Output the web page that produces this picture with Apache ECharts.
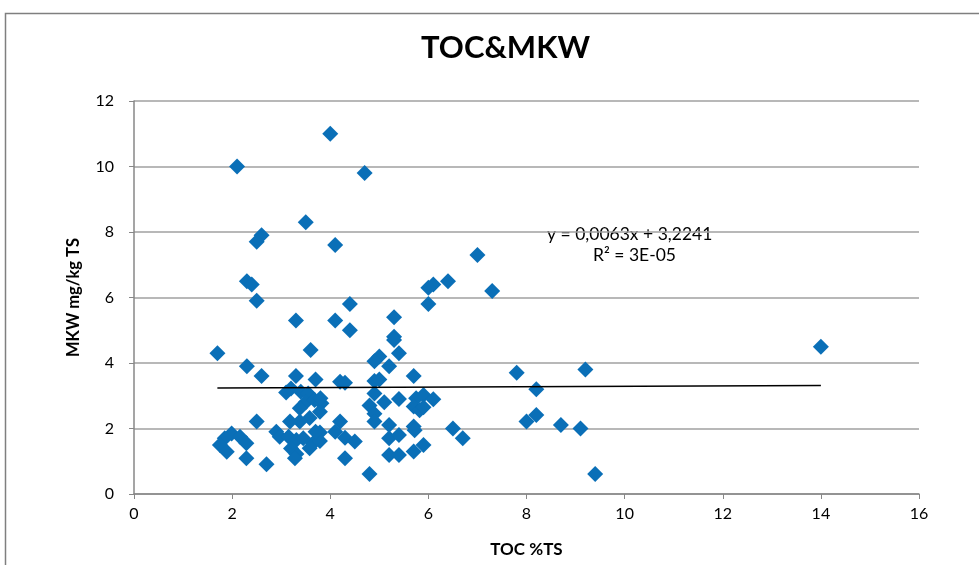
<!DOCTYPE html>
<html>
<head>
<meta charset="utf-8">
<script src="https://cdn.jsdelivr.net/npm/echarts@6/dist/echarts.min.js"></script>
<style>html,body{margin:0;padding:0;background:#fff}#c{width:979px;height:565px}</style>
</head>
<body>
<div id="c"></div>
<script>
var titleText = 'TOC&MKW';
var xAxisName = 'TOC %TS';
var yAxisName = 'MKW mg/kg TS';
var equationText = 'y = 0,0063x + 3,2241';
var r2Text = 'R² = 3E-05';
var xTicks = {min: 0, max: 16, interval: 2};
var yTicks = {min: 0, max: 12, interval: 2};
var tocValues = [
  4.0, 2.1, 4.7, 3.5, 2.6, 2.5, 4.1, 7.0,
  2.3, 2.4, 6.4, 6.1, 6.0, 7.3, 2.5, 6.0, 4.4,
  3.3, 4.1, 5.3, 4.4, 5.3, 5.3, 14.0, 1.7, 3.6, 5.4, 5.0, 4.9,
  2.3, 5.2, 2.6, 3.3, 5.7, 7.8, 9.2, 3.7,
  4.9, 5.0, 4.2, 4.3, 8.2,
  3.1, 3.2, 3.4, 3.55, 4.9,
  3.5, 3.68, 3.82, 3.38, 3.79, 3.58, 3.38, 3.18, 3.8,
  5.75, 5.9, 6.1, 5.7, 5.82, 5.9, 5.4, 5.1, 4.8, 4.9, 4.9,
  5.7, 5.72, 6.5, 6.7, 5.2, 5.2, 5.4, 5.2, 5.4, 5.7, 5.9, 4.8,
  4.2, 4.1, 4.3, 4.5, 4.3, 3.79, 3.65, 3.79,
  8.0, 8.2, 8.7, 9.1, 9.4,
  2.5, 2.9, 2.97, 3.15, 3.31, 3.45, 3.7, 3.2, 3.31, 3.28, 3.58,
  1.99, 1.85, 1.75, 1.89, 2.16, 2.29, 2.29, 2.7
];
var mkwValues = [
  11.0, 10.0, 9.8, 8.3, 7.9, 7.7, 7.6, 7.3,
  6.5, 6.4, 6.5, 6.4, 6.3, 6.2, 5.9, 5.8, 5.8,
  5.3, 5.3, 5.4, 5.0, 4.8, 4.7, 4.5, 4.3, 4.4, 4.3, 4.2, 4.05,
  3.9, 3.9, 3.6, 3.6, 3.6, 3.7, 3.8, 3.5,
  3.45, 3.5, 3.43, 3.4, 3.2,
  3.1, 3.22, 3.12, 3.07, 3.07,
  2.8, 2.87, 2.77, 2.62, 2.51, 2.32, 2.21, 2.21, 2.92,
  2.92, 3.02, 2.89, 2.67, 2.56, 2.65, 2.9, 2.8, 2.7, 2.45, 2.21,
  2.06, 1.95, 2.0, 1.7, 2.11, 1.7, 1.8, 1.19, 1.19, 1.3, 1.5, 0.61,
  2.21, 1.9, 1.72, 1.6, 1.09, 1.88, 1.55, 1.62,
  2.21, 2.41, 2.11, 2.0, 0.61,
  2.21, 1.9, 1.75, 1.75, 1.65, 1.7, 1.9, 1.39, 1.22, 1.09, 1.4,
  1.85, 1.7, 1.5, 1.29, 1.75, 1.55, 1.09, 0.91
];
var trendX = [1.7, 14.0];
var trendY = [3.235, 3.312];

var points = tocValues.map(function (x, i) { return [x, mkwValues[i]]; });
var trend = trendX.map(function (x, i) { return [x, trendY[i]]; });
var fontFam = 'Lato, "Open Sans", sans-serif';

var chart = echarts.init(document.getElementById('c'), null, {renderer: 'canvas'});
chart.setOption({
  animation: false,
  backgroundColor: '#fff',
  title: {
    text: titleText, left: 416, top: 27,
    textStyle: {fontFamily: fontFam, fontSize: 31, fontWeight: 'bold', color: '#000'}
  },
  grid: {left: 134, right: 60, top: 101, bottom: 71},
  xAxis: {
    type: 'value', min: xTicks.min, max: xTicks.max, interval: xTicks.interval,
    name: xAxisName, nameLocation: 'middle', nameGap: 47,
    nameTextStyle: {fontFamily: fontFam, fontSize: 17, fontWeight: 'bold', color: '#000'},
    axisLine: {show: true, lineStyle: {color: '#878787', width: 1.5}},
    axisTick: {show: true, length: 5, lineStyle: {color: '#878787'}},
    axisLabel: {fontFamily: fontFam, fontSize: 16, color: '#000', margin: 12},
    splitLine: {show: false}
  },
  yAxis: {
    type: 'value', min: yTicks.min, max: yTicks.max, interval: yTicks.interval,
    name: yAxisName, nameLocation: 'middle', nameGap: 52, nameRotate: 90,
    nameTextStyle: {fontFamily: fontFam, fontSize: 16.5, fontWeight: 'bold', color: '#000'},
    axisLine: {show: true, lineStyle: {color: '#878787', width: 1.5}},
    axisTick: {show: true, length: 5, lineStyle: {color: '#878787'}},
    axisLabel: {fontFamily: fontFam, fontSize: 16, color: '#000', margin: 20},
    splitLine: {show: true, lineStyle: {color: '#a0a0a0', width: 1.5}}
  },
  series: [
    {
      type: 'scatter', data: points, symbol: 'diamond', symbolSize: 16,
      itemStyle: {color: '#0a6fb7', opacity: 1}, z: 3
    },
    {
      type: 'line', data: trend, symbol: 'none', z: 4,
      lineStyle: {color: '#000', width: 1.5}
    }
  ],
  graphic: [
    {type: 'rect', shape: {x: 5.5, y: 13.5, width: 1100, height: 700},
     style: {fill: 'none', stroke: '#7f7f7f', lineWidth: 1.5}, silent: true},
    {type: 'text', left: 547, top: 225,
     style: {text: equationText, fontFamily: fontFam, fontSize: 17.5, fill: '#000'}},
    {type: 'text', left: 593, top: 246,
     style: {text: r2Text, fontFamily: fontFam, fontSize: 17.5, fill: '#000'}}
  ]
});
</script>
</body>
</html>
